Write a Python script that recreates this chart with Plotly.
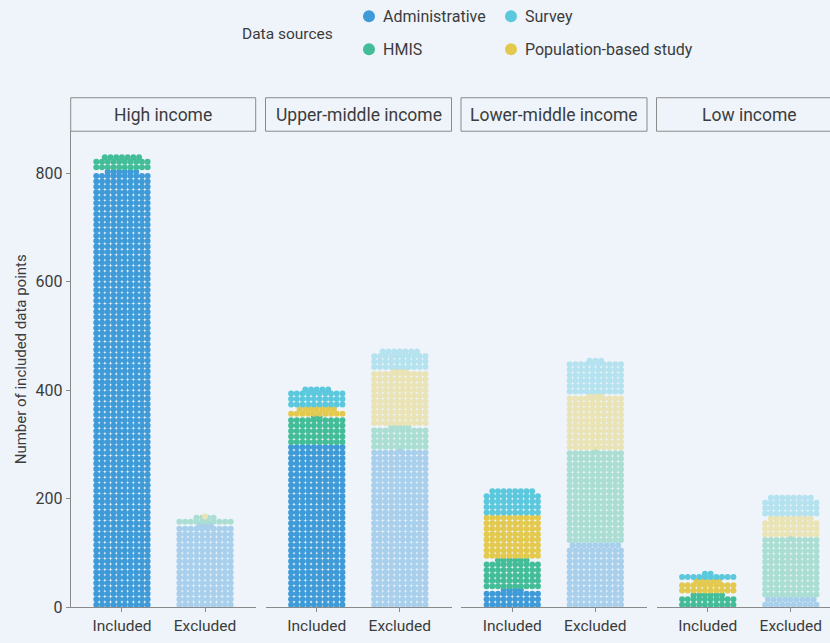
import plotly.graph_objects as go

# ---------------- data ----------------
income_groups = ["High income", "Upper-middle income", "Lower-middle income", "Low income"]
status_labels = ["Included", "Excluded"]
sources = ["Administrative", "HMIS", "Population-based study", "Survey"]

admin_included = [806, 300, 34, 0]
hmis_included = [27, 52, 56, 26]
pop_included = [0, 17, 80, 25]
survey_included = [0, 35, 48, 12]

admin_excluded = [153, 291, 119, 19]
hmis_excluded = [14, 44, 171, 111]
pop_excluded = [1, 103, 103, 38]
survey_excluded = [0, 37, 63, 38]

y_ticks = [0, 200, 400, 600, 800]

# ---------------- style ----------------
BG = "#EEF4FA"
TXT = "#3c3c3c"
LINE = "#8a8a8a"
FONT = "Roboto"
solid = {"Administrative": "#3F9BD8", "HMIS": "#43BD98",
         "Population-based study": "#E3C94E", "Survey": "#5CC8DD"}


def blend(hexc, a=0.40, bg=(238, 244, 250)):
    r, g, b = int(hexc[1:3], 16), int(hexc[3:5], 16), int(hexc[5:7], 16)
    c = [round(bg[i] + a * (v - bg[i])) for i, v in enumerate((r, g, b))]
    return "rgb(%d,%d,%d)" % tuple(c)


light = {k: blend(v) for k, v in solid.items()}

W, H = 830, 643


def px(x):
    return x / W


def py(y):
    return 1 - y / H


panel_px = [(70.7, 255.7), (265.5, 451.5), (461.0, 647.0), (656.5, 830.0)]
unit = 185.0 / 2.227  # px per x unit
xmin = -0.617
y_bottom_px, y_top_px = 617.0, 133.3
px_per_val = (617.0 - 176.0) / 800.0
ytop = (y_bottom_px - y_top_px) / px_per_val
dx = 5.7 / unit
marker_size = 6.0

included = {"Administrative": admin_included, "HMIS": hmis_included,
            "Population-based study": pop_included, "Survey": survey_included}
excluded = {"Administrative": admin_excluded, "HMIS": hmis_excluded,
            "Population-based study": pop_excluded, "Survey": survey_excluded}


def dots(n, base, xc):
    full, rem = divmod(n, 10)
    xs, ys = [], []
    for k in range(full):
        for j in range(10):
            xs.append(xc + (j - 4.5) * dx)
            ys.append(base + 10 * k + 5)
    for j in range(rem):
        xs.append(xc + (j - (rem - 1) / 2) * dx)
        ys.append(base + 10 * full + rem / 2)
    return xs, ys


fig = go.Figure()
layout = dict(
    width=W, height=H,
    margin=dict(l=0, r=0, t=0, b=0),
    paper_bgcolor=BG, plot_bgcolor=BG,
    showlegend=False,
    font=dict(family=FONT, color=TXT, size=14),
    shapes=[], annotations=[],
)

for p, grp in enumerate(income_groups):
    ax = "" if p == 0 else str(p + 1)
    for s, (status, table, cols) in enumerate([("Included", included, solid),
                                                ("Excluded", excluded, light)]):
        base = 0
        for src in sources:
            n = table[src][p]
            xs, ys = dots(n, base, s)
            base += n
            if n:
                fig.add_trace(go.Scatter(
                    x=xs, y=ys, mode="markers",
                    marker=dict(size=marker_size, color=cols[src], line=dict(width=0)),
                    xaxis="x" + ax, yaxis="y" + ax, hoverinfo="skip"))
    x0, x1 = panel_px[p]
    xmax = xmin + (x1 - x0) / unit
    layout["xaxis" + ax] = dict(
        domain=[px(x0), min(px(x1), 1.0)], range=[xmin, xmax], anchor="y" + ax,
        showgrid=False, zeroline=False, showline=True, linecolor=LINE, linewidth=1,
        ticks="outside", ticklen=4, tickcolor=LINE, tickvals=[0, 1],
        ticktext=status_labels, tickfont=dict(size=15.5, color=TXT, family=FONT),
        fixedrange=True)
    layout["yaxis" + ax] = dict(
        domain=[py(y_bottom_px), py(y_top_px)], range=[0, ytop], anchor="x" + ax,
        showgrid=False, zeroline=False,
        showline=(p == 0), linecolor=LINE, linewidth=1,
        ticks="outside" if p == 0 else "", ticklen=4, tickcolor=LINE,
        tickvals=y_ticks, showticklabels=(p == 0),
        tickfont=dict(size=16, color=TXT, family=FONT), fixedrange=True)
    # strip
    xr = x1 + 12 if p == 3 else x1
    layout["shapes"].append(dict(
        type="rect", xref="paper", yref="paper",
        x0=px(x0), x1=px(xr), y0=py(133.3), y1=py(99.3),
        line=dict(color=LINE, width=1), fillcolor="rgba(0,0,0,0)"))
    layout["annotations"].append(dict(
        text=grp, xref="paper", yref="paper", x=px((x0 + xr) / 2), y=py(116.5),
        showarrow=False, xanchor="center", yanchor="middle",
        font=dict(size=17.5, color=TXT, family=FONT)))

# y-axis title
layout["annotations"].append(dict(
    text="Number of included data points", xref="paper", yref="paper",
    x=px(21), y=py(365), textangle=-90, showarrow=False,
    xanchor="center", yanchor="middle", font=dict(size=15, color=TXT, family=FONT)))

# legend (drawn manually, 2 x 2)
layout["annotations"].append(dict(
    text="Data sources", xref="paper", yref="paper", x=px(240), y=py(35),
    showarrow=False, xanchor="left", yanchor="middle",
    font=dict(size=15.5, color=TXT, family=FONT)))
legend_pos = {"Administrative": (369, 16.5), "Survey": (511, 16.5),
              "HMIS": (369, 50), "Population-based study": (511, 50)}
r = 6
for src, (lx, ly) in legend_pos.items():
    layout["shapes"].append(dict(
        type="circle", xref="paper", yref="paper",
        x0=px(lx - r), x1=px(lx + r), y0=py(ly + r), y1=py(ly - r),
        fillcolor=solid[src], line=dict(width=0)))
    layout["annotations"].append(dict(
        text=src, xref="paper", yref="paper", x=px(lx + 12), y=py(ly),
        showarrow=False, xanchor="left", yanchor="middle",
        font=dict(size=16, color=TXT, family=FONT)))

fig.update_layout(**layout)
post = (
    "document.documentElement.style.margin='0';"
    "document.body.style.margin='0';"
    "document.documentElement.style.overflow='hidden';"
    "document.body.style.overflow='hidden';"
    "document.body.style.background='%s';" % BG
)
fig.write_html("out.html", config={"displayModeBar": False}, post_script=post)
